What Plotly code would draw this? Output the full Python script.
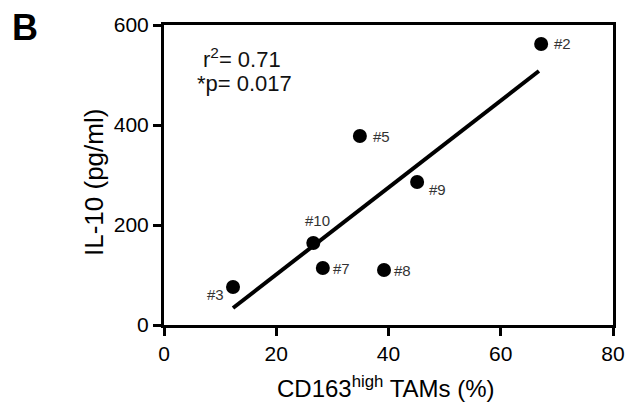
import plotly.graph_objects as go

# Data
tam_pct = [67.2, 34.9, 45.1, 26.6, 28.3, 39.2, 12.3]
il10 = [562, 378, 286, 164, 114, 110, 76]
sample_ids = ["#2", "#5", "#9", "#10", "#7", "#8", "#3"]
fit_x = [12.3, 66.8]
fit_y = [34, 508]
x_ticks = [0, 20, 40, 60, 80]
y_ticks = [0, 200, 400, 600]
stats_lines = ["r<sup>2</sup>= 0.71", "*p= 0.017"]

# label offsets (pixels) relative to each point
label_dx = [21, 22, 20, 4, 19, 18, -18]
label_dy = [1, 0, -7, 23, 0, 0, -7]

FONT = "Liberation Sans, Arial, sans-serif"

fig = go.Figure()
fig.add_trace(go.Scatter(x=fit_x, y=fit_y, mode="lines",
                         line=dict(color="black", width=4), showlegend=False,
                         hoverinfo="skip"))
fig.add_trace(go.Scatter(x=tam_pct, y=il10, mode="markers",
                         marker=dict(color="black", size=14), showlegend=False))

anns = []
for x, y, t, dx, dy in zip(tam_pct, il10, sample_ids, label_dx, label_dy):
    anns.append(dict(x=x, y=y, xref="x", yref="y", text=t, showarrow=False,
                     xanchor="center", yanchor="middle",
                     xshift=dx, yshift=dy, font=dict(family=FONT, size=15, color="#333")))

anns.append(dict(x=13.9, y=534, xref="x", yref="y", text=stats_lines[0], showarrow=False,
                 xanchor="center", yanchor="middle",
                 font=dict(family=FONT, size=22, color="#111")))
anns.append(dict(x=14.4, y=484, xref="x", yref="y", text=stats_lines[1], showarrow=False,
                 xanchor="center", yanchor="middle",
                 font=dict(family=FONT, size=22, color="#111")))
anns.append(dict(x=(25 - 164) / 449, y=(325 - 27) / 300, xref="paper", yref="paper",
                 text="<b>B</b>", showarrow=False, xanchor="center", yanchor="middle",
                 font=dict(family=FONT, size=36, color="black")))
anns.append(dict(x=(386 - 164) / 449, y=(325 - 387) / 300, xref="paper", yref="paper",
                 text="CD163<sup>high</sup> TAMs (%)", showarrow=False,
                 xanchor="center", yanchor="middle",
                 font=dict(family=FONT, size=24, color="black")))
anns.append(dict(x=(94 - 164) / 449, y=(325 - 183) / 300, xref="paper", yref="paper",
                 text="IL-10 (pg/ml)", textangle=-90, showarrow=False,
                 xanchor="center", yanchor="middle",
                 font=dict(family=FONT, size=26, color="black")))

fig.update_layout(
    width=625, height=403,
    margin=dict(l=164, r=12, t=25, b=78, autoexpand=False),
    paper_bgcolor="white", plot_bgcolor="white",
    annotations=anns,
    font=dict(family=FONT, color="black"),
)
fig.update_xaxes(range=[0, 80], tickvals=x_ticks, showgrid=False, zeroline=False,
                 automargin=False,
                 showline=True, linecolor="black", linewidth=3, mirror=True,
                 ticks="outside", ticklen=8, tickwidth=3, tickcolor="black",
                 tickfont=dict(family=FONT, size=21, color="black"))
fig.update_yaxes(range=[0, 600], tickvals=y_ticks, showgrid=False, zeroline=False,
                 automargin=False,
                 showline=True, linecolor="black", linewidth=3, mirror=True,
                 ticks="outside", ticklen=8, tickwidth=3, tickcolor="black",
                 tickfont=dict(family=FONT, size=21, color="black"))

fig.write_html("out.html", config={"displayModeBar": False},
               post_script="document.body.style.margin='0px';document.body.style.overflow='hidden';")
